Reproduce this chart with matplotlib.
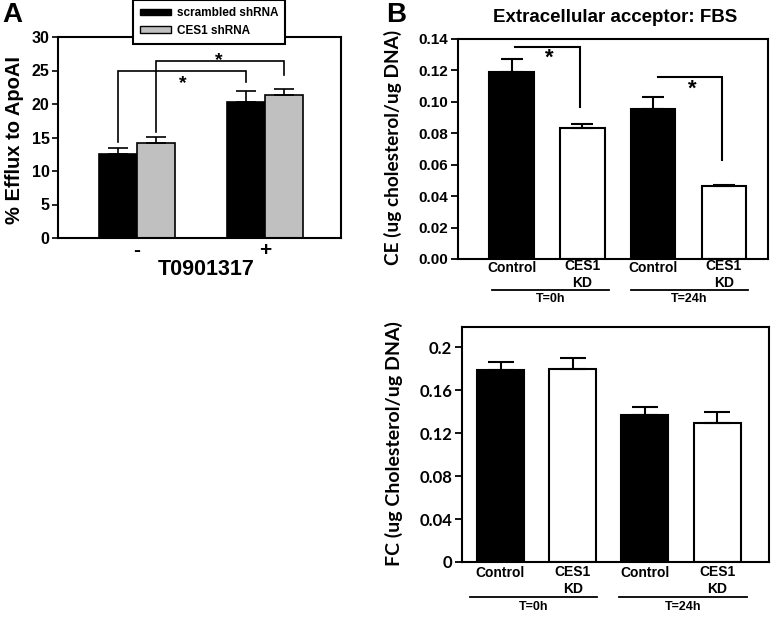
import matplotlib
matplotlib.use("Agg")
import matplotlib.pyplot as plt
import numpy as np
from matplotlib.patches import Patch
import matplotlib.transforms as mtransforms

# ---------------- data ----------------
A_groups = ['-', '+']
A_scrambled = [12.6, 20.3]
A_scrambled_err = [0.9, 1.6]
A_ces1 = [14.2, 21.3]
A_ces1_err = [0.9, 0.9]
A_series = ['scrambled shRNA', 'CES1 shRNA']

B_categories = ['Control', 'CES1\nKD', 'Control', 'CES1\nKD']
B_times = ['T=0h', 'T=24h']
CE = [0.119, 0.0835, 0.0955, 0.0462]
CE_err = [0.008, 0.0025, 0.0075, 0.0008]
FC = [0.1785, 0.180, 0.137, 0.1295]
FC_err = [0.008, 0.010, 0.007, 0.010]
B_colors = ['black', 'white', 'black', 'white']

W, H = 778, 619
fig = plt.figure(figsize=(W / 100, H / 100), dpi=100)

def box(l, t, r, b):
    return [l / W, 1 - b / H, (r - l) / W, (b - t) / H]

def fy(ypix):
    return 1 - ypix / H

ARIAL = 'Liberation Sans'
CAL = 'Lato'
LW = 1.5

def style_axes(ax, lw=LW):
    for s in ax.spines.values():
        s.set_linewidth(lw)
        s.set_color('black')

def bracket(ax, x1, y1, x2, y2, ytop, lw=1.2):
    ax.plot([x1, x1, x2, x2], [y1, ytop, ytop, y2], color='black', lw=lw,
            solid_joinstyle='miter', zorder=4, clip_on=False)

# ---------------- Panel A ----------------
axA = fig.add_axes(box(58, 37, 341, 238))
style_axes(axA)
x = np.arange(len(A_groups))
w = 0.30
axA.bar(x - w / 2, A_scrambled, w, color='black', edgecolor='black', linewidth=1.2, zorder=2)
axA.bar(x + w / 2, A_ces1, w, color='#c0c0c0', edgecolor='black', linewidth=1.2, zorder=2)
axA.errorbar(x - w / 2, A_scrambled, yerr=[np.zeros(2), A_scrambled_err], fmt='none',
             ecolor='black', elinewidth=1.2, capsize=7, capthick=1.2, zorder=3)
axA.errorbar(x + w / 2, A_ces1, yerr=[np.zeros(2), A_ces1_err], fmt='none',
             ecolor='black', elinewidth=1.2, capsize=7, capthick=1.2, zorder=3)
axA.set_xlim(-0.617, 1.594)
axA.set_ylim(0, 30)
axA.set_yticks([0, 5, 10, 15, 20, 25, 30])
axA.set_xticks(x)
axA.set_xticklabels(A_groups, fontsize=15, fontweight='bold', family=ARIAL)
axA.tick_params(axis='x', length=0, pad=2)
axA.tick_params(axis='y', direction='out', length=4, width=1.2, labelsize=11.5, pad=2)
for lab in axA.get_yticklabels():
    lab.set_fontweight('bold'); lab.set_family(ARIAL)

bracket(axA, 0 - w / 2, 14.3, 1 - w / 2, 23.3, 25.0)
bracket(axA, 0 + w / 2, 15.8, 1 + w / 2, 24.3, 26.4)
axA.text(0.36, 23.0, '*', ha='center', va='center', fontsize=14, fontweight='bold', family=ARIAL)
axA.text(0.64, 26.5, '*', ha='center', va='center', fontsize=14, fontweight='bold', family=ARIAL)

fig.text(15 / W, fy(140), '% Efflux to ApoAI', rotation=90, ha='center', va='center',
         fontsize=14.5, fontweight='bold', family=ARIAL)
fig.text(206 / W, fy(270), 'T0901317', ha='center', va='center',
         fontsize=15.5, fontweight='bold', family=ARIAL)
fig.text(12 / W, fy(15), 'A', ha='center', va='center', fontsize=20, fontweight='bold', family=ARIAL)

handles = [Patch(facecolor='black', edgecolor='black', linewidth=1),
           Patch(facecolor='#c0c0c0', edgecolor='black', linewidth=1)]
leg = fig.legend(handles, A_series, loc='upper left',
                 bbox_to_anchor=(133 / W, fy(0)), borderaxespad=0,
                 prop={'family': ARIAL, 'weight': 'bold', 'size': 8.5},
                 handlelength=2.6, handleheight=0.5, handletextpad=0.5,
                 labelspacing=0.5, borderpad=0.6, fancybox=False,
                 framealpha=1, edgecolor='black')
leg.get_frame().set_linewidth(1.5)

# ---------------- Panel B helpers ----------------
def panel_B(ax, vals, errs, xl, xr, bw, capsize, y_ctrl, y_kd_mid, line_y, line_x, time_y):
    style_axes(ax)
    xs = np.arange(len(vals))
    ax.bar(xs, vals, bw, color=B_colors, edgecolor='black', linewidth=1.5, zorder=2)
    ax.errorbar(xs, vals, yerr=[np.zeros(len(vals)), errs], fmt='none', ecolor='black',
                elinewidth=1.5, capsize=capsize, capthick=1.5, zorder=3)
    ax.set_xlim(xl, xr)
    ax.set_xticks(xs)
    ax.set_xticklabels([])
    ax.tick_params(axis='x', length=0)
    ax.tick_params(axis='y', direction='out', length=5, width=1.3, pad=2)
    tr = mtransforms.blended_transform_factory(ax.transData, fig.transFigure)
    for xi, lab in zip(xs, B_categories):
        yy = y_ctrl if '\n' not in lab else y_kd_mid
        ax.text(xi, fy(yy), lab, ha='center', va='center', multialignment='center',
                fontsize=10, fontweight='bold', family=ARIAL, linespacing=1.27,
                transform=tr)
    for (xa, xb), lab in zip(line_x, B_times):
        ax.plot([xa, xb], [fy(line_y), fy(line_y)], color='black', lw=1.3,
                transform=tr, clip_on=False)
        ax.text((xa + xb) / 2, fy(time_y), lab, ha='center', va='center', fontsize=9,
                fontweight='bold', family=ARIAL, transform=tr)
    return xs

# ---------------- Panel B top ----------------
axB1 = fig.add_axes(box(458, 39, 768, 259))
u1, c1 = 70.8, 511.5
px1 = lambda p: (p - c1) / u1
panel_B(axB1, CE, CE_err, px1(458), px1(768), 0.63, 8,
        268.3, 274.5, 289.5, [(px1(492), px1(609)), (px1(631), px1(748))], 298.5)
axB1.set_ylim(0, 0.14)
ticks1 = np.arange(0, 0.141, 0.02)
axB1.set_yticks(ticks1)
axB1.set_yticklabels(['%.2f' % v for v in ticks1], fontsize=11, fontweight='bold', family=ARIAL)
bracket(axB1, 0.05, 0.135, 0.97, 0.097, 0.135, lw=1.5)
axB1.text(0.53, 0.128, '*', ha='center', va='center', fontsize=16, fontweight='bold', family=ARIAL)
bracket(axB1, 2.07, 0.1157, 2.97, 0.0627, 0.1157, lw=1.5)
axB1.text(2.55, 0.108, '*', ha='center', va='center', fontsize=16, fontweight='bold', family=ARIAL)

fig.text(392.5 / W, fy(147), 'CE (ug cholesterol/ug DNA)', rotation=90, ha='center', va='center',
         fontsize=13.7, fontweight='bold', family=CAL)
fig.text(615 / W, fy(17), 'Extracellular acceptor: FBS', ha='center', va='center',
         fontsize=13.5, fontweight='bold', family=ARIAL)
fig.text(396 / W, fy(15), 'B', ha='center', va='center', fontsize=20, fontweight='bold', family=ARIAL)

# ---------------- Panel B bottom ----------------
axB2 = fig.add_axes(box(462, 327, 769, 562))
u2, c2 = 72.2, 500.5
px2 = lambda p: (p - c2) / u2
panel_B(axB2, FC, FC_err, px2(462), px2(769), 0.65, 9.5,
        573.3, 580.5, 597.3, [(px2(470), px2(597)), (px2(619), px2(747))], 606.5)
axB2.set_ylim(0, 0.2187)
ticks2 = [0, 0.04, 0.08, 0.12, 0.16, 0.2]
axB2.set_yticks(ticks2)
axB2.set_yticklabels(['0', '0.04', '0.08', '0.12', '0.16', '0.2'],
                     fontsize=12, fontweight='bold', family=CAL)
fig.text(394 / W, fy(444), 'FC (ug Cholesterol/ug DNA)', rotation=90, ha='center', va='center',
         fontsize=14, fontweight='bold', family=CAL)

fig.savefig('out.png', dpi=100)
